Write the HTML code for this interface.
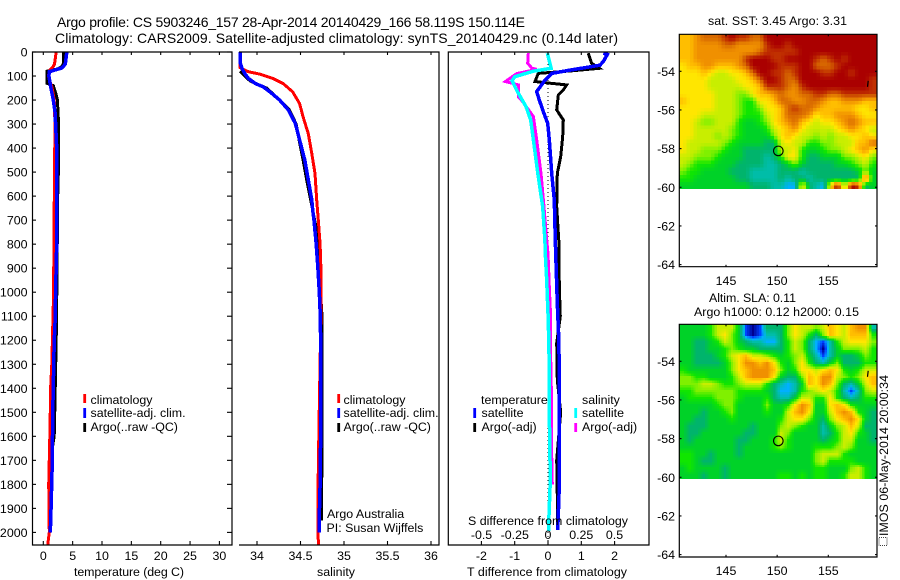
<!DOCTYPE html>
<html>
<head>
<meta charset="utf-8">
<title>Argo profile</title>
<style>
html,body{margin:0;padding:0;background:#fff;}
svg{display:block;}
text{font-family:"Liberation Sans",sans-serif;fill:#000;font-size:12.4px;}
</style>
</head>
<body>
<svg id="chart" xmlns="http://www.w3.org/2000/svg" width="900" height="580" viewBox="0 0 900 580">
<rect x="0" y="0" width="900" height="580" fill="#fff"/>
<g id="maps"></g>
<g id="series"></g>
<g id="axes" stroke="#000" stroke-width="1.2" fill="none">
<path d="M32.5 52H232V545H32.5Z"/>
<path d="M239 52H439V545H239"/>
<path d="M448.3 52H649V545H448.3Z"/>
<path d="M679.3 34.3H877V266.7H679.3Z"/>
<path d="M679.3 324.3H877V557H679.3Z"/>
</g>
<g id="ticks"></g>
<g id="ticklabels"></g>

<text x="57" y="27" style="font-size:14px" textLength="468" lengthAdjust="spacing">Argo profile: CS 5903246_157 28-Apr-2014 20140429_166 58.119S 150.114E</text>
<text x="55" y="43" style="font-size:14px" textLength="563" lengthAdjust="spacing">Climatology: CARS2009. Satellite-adjusted climatology: synTS_20140429.nc (0.14d later)</text>

<text x="74" y="576" textLength="110" lengthAdjust="spacing">temperature (deg C)</text>
<text x="317" y="576" textLength="38" lengthAdjust="spacing">salinity</text>
<text x="467" y="576" textLength="160" lengthAdjust="spacing">T difference from climatology</text>
<text x="468" y="525" textLength="160" lengthAdjust="spacing">S difference from climatology</text>

<g>
<rect x="83.3" y="394" width="2.8" height="9" fill="#f00"/>
<rect x="83.3" y="408" width="2.8" height="10" fill="#00f"/>
<rect x="83.3" y="423" width="2.8" height="9" fill="#000"/>
<text x="90.5" y="404">climatology</text>
<text x="90.5" y="417">satellite-adj. clim.</text>
<text x="90.5" y="431">Argo(..raw -QC)</text>
</g>
<g>
<rect x="337.3" y="394" width="2.8" height="9" fill="#f00"/>
<rect x="337.3" y="408" width="2.8" height="10" fill="#00f"/>
<rect x="337.3" y="423" width="2.8" height="9" fill="#000"/>
<text x="343.5" y="404">climatology</text>
<text x="343.5" y="417">satellite-adj. clim.</text>
<text x="343.5" y="431">Argo(..raw -QC)</text>
<text x="327" y="518">Argo Australia</text>
<text x="326.5" y="532">PI: Susan Wijffels</text>
</g>
<g>
<rect x="473.3" y="408" width="2.8" height="10" fill="#00f"/>
<rect x="473.3" y="423" width="2.8" height="9" fill="#000"/>
<rect x="574.3" y="408" width="2.8" height="10" fill="#0ff"/>
<rect x="574.3" y="423" width="2.8" height="9" fill="#f0f"/>
<text x="481" y="404">temperature</text>
<text x="481.5" y="417">satellite</text>
<text x="481.5" y="431">Argo(-adj)</text>
<text x="582" y="404">salinity</text>
<text x="582" y="417">satellite</text>
<text x="582" y="431">Argo(-adj)</text>
</g>

<text x="708" y="25" textLength="139" lengthAdjust="spacing">sat. SST: 3.45 Argo: 3.31</text>
<text x="709" y="302" textLength="87" lengthAdjust="spacing">Altim. SLA: 0.11</text>
<text x="694" y="316" textLength="165" lengthAdjust="spacing">Argo h1000: 0.12 h2000: 0.15</text>

<g>
<rect x="879" y="537.5" width="8" height="8" fill="none" stroke="#000" stroke-width="0.8" stroke-dasharray="1 1"/>
<text transform="translate(888 536) rotate(-90)" textLength="161" lengthAdjust="spacing">IMOS 06-May-2014 20:00:34</text>
</g>
</svg>
<script>
// ---- tick values ----
const depthTicks = [0,100,200,300,400,500,600,700,800,900,1000,1100,1200,1300,1400,1500,1600,1700,1800,1900,2000];
const tempTicks = [0,5,10,15,20,25,30];
const salTicks = [34,34.5,35,35.5,36];
const salTickLabels = ['34','34.5','35','35.5','36'];
const tDiffTicks = [-2,-1,0,1,2];
const sDiffTicks = [-0.5,-0.25,0,0.25,0.5];
const sDiffTickLabels = ['-0.5','-0.25','0','0.25','0.5'];
const lonTicks = [145,150,155];
const latTicks = [-54,-56,-58,-60,-62,-64];

// ---- temperature series ----
const climTDepth = [0,50,60,75,100,150,200,300,500,800,1000,1100,1300,1400,1550,1800,2000,2052];
const climTValue = [2.2,1.9,1.7,1.1,0.85,1.5,1.85,2.0,1.9,1.8,1.75,1.65,1.45,1.25,1.15,0.92,1.02,0.75];
const satTDepth = [0,50,60,67,75,82,100,150,200,250,300,400,800,1000,1100,1200,1300,1400,1500,1700,1800,1950,2000];
const satTValue = [4.0,3.75,3.4,3.1,2,1.0,0.95,1.3,1.7,2.0,2.1,2.28,2.28,2.1,2.05,1.88,1.77,1.7,1.6,1.53,1.43,1.26,1.2];
const argoTDepth = [0,50,60,70,80,100,130,140,170,200,300,460,600,700,900,1000,1200,1550,1600,1700,2000];
const argoTValue = [3.4,3.4,3.2,2.5,0.65,0.6,0.6,1.7,2.1,2.4,2.6,2.6,2.45,2.45,2.3,2.3,2.2,1.9,1.85,1.2,1.1];

// ---- salinity series ----
const climSDepth = [0,65,82,92,110,131,166,215,270,340,423,506,616,700,800,900,1100,1550,1850,2052];
const climSValue = [33.805,33.805,33.90,34.03,34.18,34.30,34.41,34.49,34.53,34.59,34.63,34.667,34.686,34.705,34.725,34.735,34.735,34.713,34.70,34.705];
const satSDepth = [0,30,50,70,90,110,131,145,166,200,241,297,366,450,533,616,658,700,800,900,1000,1100,1300,1600,1650,1800,1950,2000];
const satSValue = [33.805,33.805,33.81,33.83,33.86,33.90,33.98,34.07,34.15,34.26,34.36,34.44,34.49,34.55,34.59,34.63,34.64,34.655,34.68,34.70,34.716,34.728,34.735,34.735,34.73,34.725,34.715,34.715];
const argoSDepth = [80,100,120,140,150,170,200,240,300,370,450,530,620,800,1000,1100,1300,1650,1950];
const argoSValue = [33.805,33.86,33.92,34.035,34.11,34.17,34.255,34.37,34.45,34.486,34.53,34.57,34.62,34.716,34.73,34.747,34.747,34.747,34.74];

// ---- difference series ----
const diffTSatDepth = [5,10,40,55,78,89,117,165,200,248,297,366,505,616,783,838,1046,1186,1325,1645,1850,1990];
const diffTSatValue = [1.66,1.78,1.66,1.56,0.56,0.11,-0.09,-0.34,-0.26,-0.14,-0.01,0.04,0.11,0.19,0.22,0.23,0.28,0.32,0.34,0.34,0.33,0.29];
const diffTArgoDepth = [5,47,68,78,89,123,130,137,158,179,241,283,352,436,505,644,800,977,1100,1212,1366,1500,1700,1850,1990];
const diffTArgoValue = [1.21,1.31,1.54,0.75,-0.29,-0.39,0.06,0.56,0.46,0.31,0.26,0.46,0.44,0.38,0.28,0.26,0.33,0.34,0.37,0.26,0.28,0.38,0.26,0.28,0.28];
const diffSSatDepth = [5,20,68,80,103,120,165,228,283,366,505,644,783,838,950,1088,1186,1325,1505,1783,1963,1995];
const diffSSatValue = [-0.005,0.002,0.023,-0.11,-0.25,-0.27,-0.23,-0.165,-0.13,-0.11,-0.077,-0.04,-0.023,-0.02,-0.01,0,0.005,0.01,0.01,0.017,0.005,0.005];
const diffSArgoDepth = [5,47,68,72,90,123,137,186,210,269,366,505,644,783,838,977,1070,1200,1400,1600,1800];
const diffSArgoValue = [-0.148,-0.153,-0.12,-0.085,-0.235,-0.32,-0.223,-0.223,-0.186,-0.11,-0.085,-0.053,-0.03,-0.01,0,0.01,0.017,0.017,0.025,0.025,0.032];

// ---- float position and island ----
const floatLon = 150.114;
const floatLat = -58.119;
const islandLon = 158.9;
const islandLat = -54.65;

// ---- map colour levels (0 dark blue .. 14 dark red) ----
const mapPalette = ['#00008f','#0040ff','#00b0ff','#00bda8','#00b46c','#00d228','#10e600','#80f000','#c8ee00','#ffe600','#ffbe00','#f09000','#d86a00','#c03000','#aa0000'];
const sstLevels = [
[10,10,11,12,12,12,13,14,13,13,12,12,14,14,14,14,14,14,14,14,14,14,14,14,14,14,14,14],
[10,10,11,11,11,11,12,12,11,11,11,11,13,14,14,13,14,14,14,14,14,14,14,14,14,14,14,14],
[10,10,11,11,11,11,11,11,11,11,11,12,13,13,13,13,13,14,14,14,14,14,14,14,14,14,14,14],
[10,10,11,11,11,11,11,11,11,13,14,14,14,13,13,14,14,14,14,13,12,13,14,13,14,14,14,14],
[9,10,10,11,11,10,10,10,11,12,14,14,14,14,13,13,13,14,14,12,12,12,13,14,14,14,14,14],
[9,9,9,10,9,8,8,9,9,10,12,14,14,13,13,12,13,14,14,14,13,13,14,14,13,14,14,14],
[9,9,9,9,8,8,8,8,9,9,10,12,14,14,13,12,12,14,14,14,14,14,14,14,14,14,14,13],
[9,9,9,9,8,8,8,8,8,9,9,10,13,13,13,12,11,13,14,14,14,14,14,14,14,14,14,13],
[9,9,9,9,9,8,8,8,7,7,9,10,10,11,12,11,11,12,12,13,13,12,12,13,13,13,13,13],
[10,9,9,9,9,8,8,8,7,6,6,9,9,10,12,12,11,11,12,12,11,10,10,11,11,11,10,10],
[9,9,9,9,9,8,8,8,7,6,6,7,9,9,10,12,13,12,12,11,10,10,10,10,10,9,9,10],
[9,9,9,8,8,8,8,8,7,6,6,6,8,9,10,12,12,12,11,9,10,10,11,11,11,10,9,9],
[9,9,8,7,7,8,8,8,6,5,5,6,7,9,10,11,12,10,9,8,9,9,10,11,12,11,10,10],
[9,9,8,8,8,8,8,7,6,5,5,5,6,8,9,10,11,9,8,8,8,8,9,10,11,10,9,8],
[9,9,8,8,8,7,8,7,6,5,5,5,5,7,9,10,9,8,8,7,8,7,8,8,9,9,10,9],
[9,8,8,8,8,8,7,6,5,5,5,5,4,4,8,9,8,8,6,6,7,7,8,8,8,10,10,12],
[9,8,8,7,7,7,6,5,5,4,4,4,4,4,8,8,9,6,5,5,6,7,7,8,9,10,11,9],
[8,8,7,7,7,6,5,5,5,4,4,4,3,4,6,9,9,6,4,4,5,5,5,7,7,8,9,7],
[8,7,6,6,6,5,5,5,4,4,4,4,3,3,4,5,7,5,4,4,4,4,5,5,6,7,8,6],
[7,6,6,5,5,5,5,4,4,4,3,3,3,3,4,4,4,3,4,4,4,4,4,4,4,5,7,5],
[6,6,5,5,5,5,5,5,4,4,3,3,3,3,4,3,4,4,3,4,4,4,4,4,4,4,13,5],
[5,5,5,5,5,5,5,5,5,5,4,4,4,3,3,2,2,9,4,3,2,9,14,7,14,13,4,5]
];
const slaLevels = [
[5,5,5,5,6,8,8,8,5,1,0,1,4,4,4,7,9,8,8,7,8,10,9,8,10,11,11,3],
[5,5,5,5,6,8,9,7,5,1,0,1,3,3,4,7,9,8,6,4,7,10,9,8,10,10,10,6],
[5,5,4,4,5,6,8,7,5,4,3,3,2,2,4,6,8,7,4,2,1,3,6,8,9,9,9,7],
[5,5,4,4,5,5,6,7,6,5,5,4,4,4,4,6,8,7,4,2,0,3,5,7,7,7,8,6],
[5,5,4,4,4,5,6,8,9,10,8,8,7,6,5,6,7,8,5,3,1,3,5,4,4,5,7,6],
[5,5,4,4,4,4,5,7,9,11,11,10,11,9,6,5,7,9,6,4,3,5,7,4,4,4,6,6],
[6,5,5,5,5,5,5,7,9,10,11,11,11,10,7,5,6,9,9,8,9,10,9,6,5,6,8,8],
[7,7,6,6,5,5,5,6,8,10,11,11,11,9,5,4,4,7,10,9,11,11,8,7,6,7,9,10],
[7,7,7,8,8,7,6,6,7,8,8,8,6,4,3,2,3,5,10,9,11,10,7,4,3,5,8,10],
[6,6,7,7,7,7,7,7,6,6,6,6,5,4,2,2,3,6,7,8,9,8,6,3,1,3,7,8],
[5,6,6,6,6,7,7,7,6,5,5,5,6,4,3,3,5,8,8,6,6,9,6,4,3,4,6,6],
[5,5,5,5,5,6,7,7,5,5,5,5,7,5,5,6,9,11,10,5,5,9,10,9,6,5,5,5],
[5,5,5,4,5,5,6,7,5,5,5,5,6,5,5,8,10,11,9,5,5,8,10,11,10,6,5,4],
[5,5,4,4,5,5,5,6,5,5,5,5,5,5,6,8,9,9,7,5,4,7,9,10,11,9,5,4],
[5,4,4,4,5,5,5,5,5,5,4,5,5,5,7,8,7,6,5,5,3,5,7,8,10,8,4,4],
[5,4,4,5,5,5,5,5,5,4,4,5,5,5,8,7,5,5,5,5,3,4,6,8,9,6,5,4],
[5,4,5,5,5,5,5,5,4,4,5,5,5,6,8,6,5,5,5,5,4,5,6,8,8,5,5,4],
[5,5,5,5,5,5,5,5,4,5,5,5,5,6,7,6,5,5,5,6,6,6,7,8,7,5,5,5],
[6,6,5,5,4,5,5,5,4,5,5,5,5,5,5,5,5,5,5,7,8,8,8,6,5,5,5,5],
[6,6,5,4,4,5,5,5,5,5,5,5,5,5,5,5,5,5,5,7,8,6,6,6,6,5,5,5],
[5,6,5,5,5,5,4,5,5,5,5,5,5,5,5,5,5,5,5,6,6,5,5,5,7,8,6,5],
[5,5,5,4,5,5,4,5,5,5,5,5,5,5,6,6,5,6,5,6,6,5,5,6,8,8,6,5]
];

// ---- axis functions ----
const NS = 'http://www.w3.org/2000/svg';
function yDepth(d){ return 52 + d * 0.2402; }
function xTemp(t){ return 43.3 + t * 5.87; }
function xSal(s){ return 257 + (s - 34) * 87; }
function xTDiff(v){ return 548 + v * 33.3; }
function xSDiff(v){ return 548 + v * 133; }
function lonX(lon){ return 726 + (lon - 145) * 10.23; }
function latY(lat, top){ return top + 37 + (-54 - lat) * 19.33; }

function el(tag, parent, attrs){
  const e = document.createElementNS(NS, tag);
  for (const k in attrs) e.setAttribute(k, attrs[k]);
  parent.appendChild(e);
  return e;
}
function drawLine(name, xf, depth, values, color, width){
  const pts = depth.map(function(d, i){ return xf(values[i]).toFixed(1) + ',' + yDepth(d).toFixed(1); }).join(' ');
  const p = el('polyline', document.getElementById('series'), {points: pts, fill: 'none', stroke: color, 'stroke-width': width, 'shape-rendering': 'crispEdges'});
  
  
}
function tick(x1, y1, x2, y2){
  const t = el('line', document.getElementById('ticks'), {x1: x1, y1: y1, x2: x2, y2: y2, stroke: '#000', 'stroke-width': 1.1});
  
  
}
function label(str, x, y, anchor){
  const t = el('text', document.getElementById('ticklabels'), {x: x, y: y, 'text-anchor': anchor});
  
  
  t.textContent = str;
}
function colorFor(level){
  const lo = Math.max(0, Math.min(mapPalette.length - 1, Math.floor(level)));
  const hi = Math.min(mapPalette.length - 1, lo + 1);
  const f = Math.max(0, Math.min(1, level - lo));
  const a = parseInt(mapPalette[lo].slice(1), 16), b = parseInt(mapPalette[hi].slice(1), 16);
  const mix = function(s){ return Math.round(((a >> s) & 255) * (1 - f) + ((b >> s) & 255) * f); };
  return 'rgb(' + mix(16) + ',' + mix(8) + ',' + mix(0) + ')';
}
function drawMap(levels, name, top, sub){
  const g = document.getElementById('maps');
  const rows = levels.length, cols = levels[0].length;
  const W = 196.7, H = 154.5, L = 679.3;
  const cw = W / (cols * sub), ch = H / (rows * sub);
  for (let r = 0; r < rows * sub; r++){
    for (let c = 0; c < cols * sub; c++){
      const fr = Math.max(0, Math.min(rows - 1, (r + 0.5) / sub - 0.5));
      const fc = Math.max(0, Math.min(cols - 1, (c + 0.5) / sub - 0.5));
      const r0 = Math.floor(fr), c0 = Math.floor(fc);
      const r1 = Math.min(rows - 1, r0 + 1), c1 = Math.min(cols - 1, c0 + 1);
      const dr = fr - r0, dc = fc - c0;
      const v = sub === 1 ? levels[r][c] :
        levels[r0][c0] * (1 - dr) * (1 - dc) + levels[r0][c1] * (1 - dr) * dc +
        levels[r1][c0] * dr * (1 - dc) + levels[r1][c1] * dr * dc;
      const cell = el('rect', g, {x: (L + c * cw).toFixed(2), y: (top + r * ch).toFixed(2), width: (cw + 0.4).toFixed(2), height: (ch + 0.4).toFixed(2), fill: colorFor(v), 'shape-rendering': 'crispEdges'});
      
      
    }
  }
}

// ---- maps ----
drawMap(sstLevels, 'sst-cell', 34.3, 2);
drawMap(slaLevels, 'sla-cell', 324.3, 3);

// ---- zero line in the difference panel ----
const zeroLine = el('line', document.getElementById('series'), {x1: xTDiff(0), y1: 52, x2: xTDiff(0), y2: 545, stroke: '#000', 'stroke-width': 1, 'stroke-dasharray': '1 3'});



// ---- series ----
drawLine('temperature-argo-line', xTemp, argoTDepth, argoTValue, '#000', 3);
drawLine('temperature-climatology-line', xTemp, climTDepth, climTValue, '#f00', 3);
drawLine('temperature-satellite-line', xTemp, satTDepth, satTValue, '#00f', 3.5);
drawLine('salinity-argo-line', xSal, argoSDepth, argoSValue, '#000', 3);
drawLine('salinity-climatology-line', xSal, climSDepth, climSValue, '#f00', 3);
drawLine('salinity-satellite-line', xSal, satSDepth, satSValue, '#00f', 3.5);
drawLine('t-difference-argo-line', xTDiff, diffTArgoDepth, diffTArgoValue, '#000', 3);
drawLine('t-difference-satellite-line', xTDiff, diffTSatDepth, diffTSatValue, '#00f', 3.5);
drawLine('s-difference-argo-line', xSDiff, diffSArgoDepth, diffSArgoValue, '#f0f', 3);
drawLine('s-difference-satellite-line', xSDiff, diffSSatDepth, diffSSatValue, '#0ff', 3.5);

// ---- ticks and labels ----
depthTicks.forEach(function(d){
  tick(32.5, yDepth(d), 36, yDepth(d));
  tick(227, yDepth(d), 232, yDepth(d));
  label(String(d), 27.5, yDepth(d) + 4.5, 'end');
});
tempTicks.forEach(function(t){
  tick(xTemp(t), 52, xTemp(t), 55);
  tick(xTemp(t), 541, xTemp(t), 545);
  label(String(t), xTemp(t), 560, 'middle');
});
salTicks.forEach(function(s, i){
  tick(xSal(s), 52, xSal(s), 55);
  tick(xSal(s), 541, xSal(s), 545);
  label(salTickLabels[i], xSal(s), 560, 'middle');
});
tDiffTicks.forEach(function(v){
  tick(xTDiff(v), 52, xTDiff(v), 55);
  tick(xTDiff(v), 541, xTDiff(v), 545);
  label(String(v), xTDiff(v), 560, 'middle');
});
sDiffTicks.forEach(function(v, i){
  label(sDiffTickLabels[i], xSDiff(v), 539, 'middle');
});
[34.3, 324.3].forEach(function(top){
  const bottom = top + 232.5;
  lonTicks.forEach(function(lon){
    tick(lonX(lon), top, lonX(lon), top + 2);
    tick(lonX(lon), bottom - 2, lonX(lon), bottom);
    label(String(lon), lonX(lon), bottom + 18, 'middle');
  });
  latTicks.forEach(function(lat){
    tick(679.3, latY(lat, top), 681.5, latY(lat, top));
    tick(875, latY(lat, top), 877, latY(lat, top));
    label(String(lat), 675, latY(lat, top) + 4.5, 'end');
  });
  const ring = el('circle', document.getElementById('ticks'), {cx: lonX(floatLon), cy: latY(floatLat, top), r: 4.8, fill: 'none', stroke: '#000', 'stroke-width': 1.1});
  
  
  const isle = el('line', document.getElementById('ticks'), {x1: lonX(islandLon), y1: latY(islandLat, top) - 3, x2: lonX(islandLon) - 0.7, y2: latY(islandLat, top) + 3, stroke: '#000', 'stroke-width': 1.2});
  
  
});
</script>
</body>
</html>
